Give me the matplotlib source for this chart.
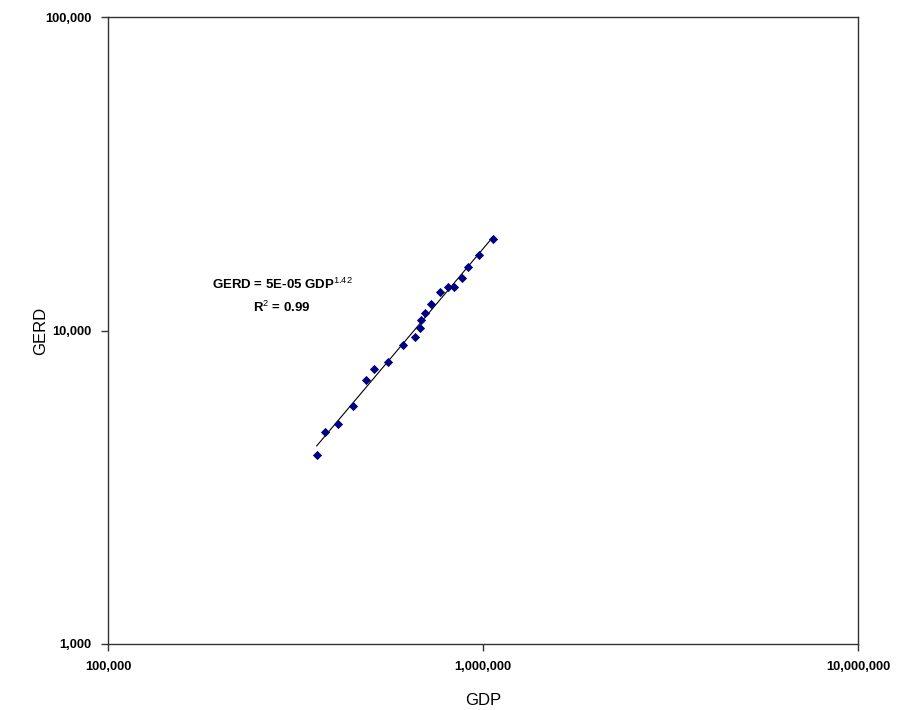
import numpy as np
import matplotlib
matplotlib.use("Agg")
import matplotlib.pyplot as plt
from matplotlib.ticker import FuncFormatter, NullLocator, LogLocator

plt.rcParams['font.family'] = ['Liberation Sans Narrow', 'Liberation Sans', 'DejaVu Sans']
plt.rcParams['mathtext.fontset'] = 'custom'
plt.rcParams['mathtext.rm'] = 'Liberation Sans'
plt.rcParams['mathtext.it'] = 'Liberation Sans'
plt.rcParams['mathtext.bf'] = 'Liberation Sans:bold'

# GDP vs GERD
gdp = [360200, 378400, 411300, 450100, 486700, 513100, 558000, 613100, 659800, 679200,
       684700, 700300, 727900, 769200, 808100, 838400, 880600, 913600, 977500, 1065400]
gerd = [4000, 4746, 5031, 5743, 6967, 7553, 7952, 9010, 9513, 10163,
        10777, 11348, 12178, 13300, 13767, 13735, 14676, 15978, 17450, 19630]

# power trendline fitted in log space
b, log_a = np.polyfit(np.log10(gdp), np.log10(gerd), 1)
xs = np.array([min(gdp), max(gdp)])
ys = 10 ** log_a * xs ** b

fig = plt.figure(figsize=(8.99, 7.10), dpi=100)
ax = fig.add_axes([0.1201, 0.093, 0.8343, 0.883])

ax.plot(xs, ys, color='black', lw=0.8, zorder=2)
ax.scatter(gdp, gerd, marker='D', s=22, color='#000080', zorder=3, linewidths=0)

ax.set_xscale('log')
ax.set_yscale('log')
ax.set_xlim(1e5, 1e7)
ax.set_ylim(1e3, 1e5)
ax.xaxis.set_major_locator(LogLocator(base=10, numticks=5))
ax.yaxis.set_major_locator(LogLocator(base=10, numticks=5))
ax.xaxis.set_minor_locator(NullLocator())
ax.yaxis.set_minor_locator(NullLocator())
fmt = FuncFormatter(lambda v, p: f"{v:,.0f}")
ax.xaxis.set_major_formatter(fmt)
ax.yaxis.set_major_formatter(fmt)
ax.tick_params(axis='both', direction='out', length=5, width=1, color='#333333',
               labelsize=9.3, pad=7)
for lab in ax.get_xticklabels() + ax.get_yticklabels():
    lab.set_fontweight('bold')
for s in ax.spines.values():
    s.set_color('#333333')
    s.set_linewidth(1)

ax.set_xlabel('GDP', fontsize=12, family=['Liberation Sans', 'DejaVu Sans'])
ax.set_ylabel('GERD', fontsize=12, family=['Liberation Sans', 'DejaVu Sans'])
ax.xaxis.set_label_coords(0.5, -0.078)
ax.yaxis.set_label_coords(-0.08, 0.5)

ax.text(0.232, 0.574, r"GERD = 5E-05 GDP$^{\mathrm{1.42}}$", transform=ax.transAxes,
        ha='center', va='center', fontsize=9.5, fontweight='bold')
ax.text(0.232, 0.5375, r"R$^{\mathrm{2}}$ = 0.99", transform=ax.transAxes,
        ha='center', va='center', fontsize=9.5, fontweight='bold')

fig.savefig('out.png', dpi=100)
